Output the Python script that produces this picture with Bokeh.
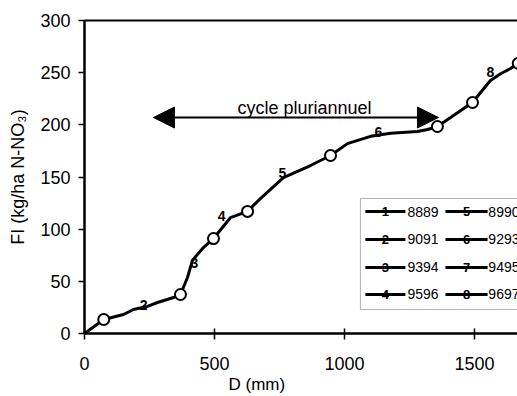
from bokeh.plotting import figure
from bokeh.models import Range1d, LinearAxis, FixedTicker, Arrow, NormalHead, BoxAnnotation, Title
from bokeh.core.properties import value
from bokeh.embed import file_html
from bokeh.resources import INLINE

# ---- data ----
curve_d = [0, 74, 150, 188, 242, 281, 342, 369, 396, 415, 454, 496, 561, 627,
           669, 765, 869, 946, 1011, 1100, 1177, 1280, 1319, 1357, 1492, 1523,
           1561, 1600, 1638, 1668]
curve_fi = [0, 13.4, 18.2, 23, 25.9, 29.7, 34.5, 37.4, 53.7, 70, 81.5, 91, 111, 117,
            127.5, 149.5, 161, 170.6, 182, 189, 192, 193.6, 195.5, 198.4, 221.4, 231,
            242.5, 249, 254, 259]
marker_d = [74, 369, 496, 627, 946, 1357, 1492, 1668]
marker_fi = [13.4, 37.4, 91, 117, 170.6, 198.4, 221.4, 259]
seg_label = ["2", "3", "4", "5", "6", "8"]
seg_label_d = [227, 423, 527, 761, 1130, 1561]
seg_label_fi = [27, 68, 113, 154, 193, 251]
legend_col1_num = ["1", "2", "3", "4"]
legend_col1_txt = ["8889", "9091", "9394", "9596"]
legend_col2_num = ["5", "6", "7", "8"]
legend_col2_txt = ["8990", "9293", "9495", "9697"]
x_ticks = [0, 500, 1000, 1500]
y_ticks = [0, 50, 100, 150, 200, 250, 300]
arrow_from, arrow_to, arrow_y = 265, 1361, 207
arrow_text = "cycle pluriannuel"

FONT = "Liberation Sans"

p = figure(width=517, height=396, output_backend="svg", toolbar_location=None,
           x_range=Range1d(0, 1665), y_range=Range1d(0, 300),
           min_border_left=84, min_border_right=0, min_border_top=20, min_border_bottom=63)
p.background_fill_color = "white"
p.border_fill_color = "white"
p.outline_line_color = None
p.grid.visible = False

# axes
p.xaxis.ticker = FixedTicker(ticks=x_ticks)
p.yaxis.ticker = FixedTicker(ticks=y_ticks)
for ax in (p.xaxis[0], p.yaxis[0]):
    ax.axis_line_width = 2.5
    ax.axis_line_color = "black"
    ax.major_tick_line_width = 1.5
    ax.major_tick_line_color = "black"
    ax.minor_tick_line_color = None
    ax.major_label_text_font = FONT
    ax.major_label_text_font_size = "18px"
    ax.major_label_text_color = "black"
    ax.axis_label_text_font = FONT
    ax.axis_label_text_font_size = "18px"
    ax.axis_label_text_font_style = "normal"
    ax.axis_label_text_color = "black"
p.xaxis.major_tick_in = 5
p.xaxis.major_tick_out = 6
p.xaxis.major_label_standoff = 17
p.yaxis.major_tick_in = 0
p.yaxis.major_tick_out = 6
p.yaxis.major_label_standoff = 8
p.yaxis.axis_label = "FI (kg/ha N-NO\u2083)"
p.yaxis.axis_label_standoff = 9

top = LinearAxis(ticker=FixedTicker(ticks=[]), axis_line_width=2, axis_line_color="black",
                 major_label_text_font_size="0px", minor_tick_line_color=None,
                 major_tick_line_color=None)
p.add_layout(top, "above")

# x axis title, placed like the reference (left of centre)
p.add_layout(Title(text="D (mm)", align="left", offset=144, standoff=0, text_font=FONT,
                   text_font_size="17px", text_font_style="normal", text_color="black"),
             "below")

# legend box (beneath the legend marks)
p.add_layout(BoxAnnotation(left=1061, top=129.4, bottom=23, fill_color="white",
                           fill_alpha=1, line_color="black", line_width=1, level="underlay"))

# curve
p.line(curve_d, curve_fi, line_width=3, line_color="black", line_join="round")
p.scatter(marker_d, marker_fi, marker="circle", size=11, fill_color="white",
          line_color="black", line_width=2)
p.text(seg_label_d, seg_label_fi, text=seg_label, text_font=value(FONT),
       text_font_size="14px", text_font_style="bold", text_align="center",
       text_baseline="middle", text_color="black")

# arrow
p.add_layout(Arrow(x_start=arrow_from, x_end=arrow_to, y_start=arrow_y, y_end=arrow_y,
                   line_width=2, line_color="black",
                   start=NormalHead(size=21, fill_color="black", line_color="black"),
                   end=NormalHead(size=21, fill_color="black", line_color="black")))
p.text([846], [215.7], text=[arrow_text], text_font=value(FONT), text_font_size="18px",
       text_align="center", text_baseline="alphabetic", text_color="black")

# legend entries
rows = [116.9, 90.1, 63.3, 37.4]
for (x0, x1, xc, xt, nums, txts) in [(1080, 1234, 1157, 1242, legend_col1_num, legend_col1_txt),
                                     (1388, 1550, 1469, 1553, legend_col2_num, legend_col2_txt)]:
    p.segment([x0] * 4, rows, [x1] * 4, rows, line_width=3, line_color="black")
    p.text([xc] * 4, rows, text=nums, text_font=value(FONT), text_font_size="13px",
           text_font_style="bold", text_align="center", text_baseline="middle",
           text_color="black")
    p.text([xt] * 4, rows, text=txts, text_font=value(FONT), text_font_size="14px",
           text_align="left", text_baseline="middle", text_color="black")

open("out.html", "w").write(file_html(p, INLINE))
